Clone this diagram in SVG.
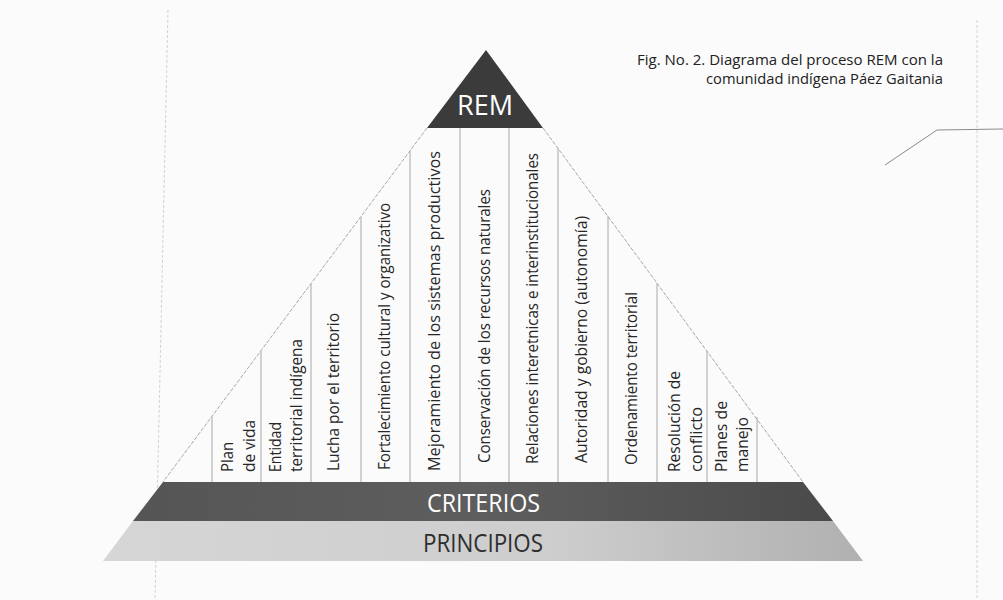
<svg xmlns="http://www.w3.org/2000/svg" width="1003" height="600" viewBox="0 0 1003 600">
  <defs>
    <linearGradient id="gDark" x1="0" y1="0" x2="1" y2="0">
      <stop offset="0" stop-color="#555555"/>
      <stop offset="0.5" stop-color="#5e5e5e"/>
      <stop offset="1" stop-color="#4a4a4a"/>
    </linearGradient>
    <linearGradient id="gLight" x1="0" y1="0" x2="1" y2="0">
      <stop offset="0" stop-color="#d6d6d6"/>
      <stop offset="0.6" stop-color="#cdcdcd"/>
      <stop offset="1" stop-color="#b0b0b0"/>
    </linearGradient>
    <style>
      .lbl { font-family: "Open Sans", "Noto Sans", "Liberation Sans", sans-serif; font-size: 16px; fill: #262626; }
      .title { font-family: "Open Sans", "Noto Sans", "Liberation Sans", sans-serif; font-size: 14.5px; fill: #222222; text-anchor: end; }
      .div { stroke: #a8a8a8; stroke-width: 1; fill: none; }
      .side { stroke: #a8a8a8; stroke-width: 1; fill: none; stroke-dasharray: 4 1.5; }
      .scan { stroke: #d2d2d2; stroke-width: 1; fill: none; stroke-dasharray: 3 2; }
      .band { font-family: "Open Sans", "Noto Sans", "Liberation Sans", sans-serif; text-anchor: middle; }
    </style>
  </defs>

  <rect x="0" y="0" width="1003" height="600" fill="#fbfbfb"/>

  <!-- scan artefact lines -->
  <g id="scan-lines">
    <line class="scan" x1="168" y1="10" x2="155" y2="600"/>
    <line class="scan" x1="977" y1="20" x2="977" y2="600"/>
    <polyline points="885,165 937,130 1003,129" fill="none" stroke="#8a8a8a" stroke-width="1"/>
  </g>

  <g id="title">
    <text class="title" x="943" y="65" textLength="306" lengthAdjust="spacingAndGlyphs">Fig. No. 2. Diagrama del proceso REM con la</text>
    <text class="title" x="943" y="84" textLength="237" lengthAdjust="spacingAndGlyphs">comunidad indígena Páez Gaitania</text>
  </g>

  <!-- connectors: pyramid sides and column dividers -->
  <g id="connectors">
    <line class="side" x1="427" y1="128" x2="163" y2="482"/>
    <line class="side" x1="543" y1="128" x2="803" y2="482"/>
    <line class="div" x1="212" y1="417" x2="212" y2="482"/>
    <line class="div" x1="261" y1="351" x2="261" y2="482"/>
    <line class="div" x1="311" y1="284" x2="311" y2="482"/>
    <line class="div" x1="361" y1="217" x2="361" y2="482"/>
    <line class="div" x1="410" y1="151" x2="410" y2="482"/>
    <line class="div" x1="460" y1="128" x2="460" y2="482"/>
    <line class="div" x1="509" y1="128" x2="509" y2="482"/>
    <line class="div" x1="558" y1="148" x2="558" y2="482"/>
    <line class="div" x1="608" y1="216" x2="608" y2="482"/>
    <line class="div" x1="657" y1="283" x2="657" y2="482"/>
    <line class="div" x1="707" y1="351" x2="707" y2="482"/>
    <line class="div" x1="757" y1="417" x2="757" y2="482"/>
  </g>

  <g id="rem">
    <polygon points="486,50 543,128 427,128" fill="#3b3b3b"/>
    <text class="band" x="485" y="115" font-size="28" fill="#ffffff" textLength="56" lengthAdjust="spacingAndGlyphs">REM</text>
  </g>

  <g id="criterios">
    <polygon points="163,482 803,482 833,521 133,521" fill="url(#gDark)"/>
    <text class="band" x="483.5" y="512" font-size="25" fill="#ffffff" textLength="113" lengthAdjust="spacingAndGlyphs">CRITERIOS</text>
  </g>

  <g id="principios">
    <polygon points="133,521 833,521 863,561 103,561" fill="url(#gLight)"/>
    <text class="band" x="483" y="552" font-size="26" fill="#2e2e2e" textLength="120" lengthAdjust="spacingAndGlyphs">PRINCIPIOS</text>
  </g>

  <g id="col-plan-vida" transform="translate(233,472) rotate(-90)">
    <text class="lbl" x="0" y="0" textLength="30" lengthAdjust="spacingAndGlyphs">Plan</text>
    <text class="lbl" x="0" y="22" textLength="52" lengthAdjust="spacingAndGlyphs">de vida</text>
  </g>
  <g id="col-entidad" transform="translate(281,472) rotate(-90)">
    <text class="lbl" x="0" y="0" textLength="50" lengthAdjust="spacingAndGlyphs">Entidad</text>
    <text class="lbl" x="0" y="21" textLength="133" lengthAdjust="spacingAndGlyphs">territorial indígena</text>
  </g>
  <g id="col-lucha" transform="translate(339,471) rotate(-90)">
    <text class="lbl" x="0" y="0" textLength="158" lengthAdjust="spacingAndGlyphs">Lucha por el territorio</text>
  </g>
  <g id="col-fortalecimiento" transform="translate(390,470) rotate(-90)">
    <text class="lbl" x="0" y="0" textLength="267" lengthAdjust="spacingAndGlyphs">Fortalecimiento cultural y organizativo</text>
  </g>
  <g id="col-mejoramiento" transform="translate(440,471) rotate(-90)">
    <text class="lbl" x="0" y="0" textLength="320" lengthAdjust="spacingAndGlyphs">Mejoramiento de los sistemas productivos</text>
  </g>
  <g id="col-conservacion" transform="translate(490,463) rotate(-90)">
    <text class="lbl" x="0" y="0" textLength="274" lengthAdjust="spacingAndGlyphs">Conservación de los recursos naturales</text>
  </g>
  <g id="col-relaciones" transform="translate(538,464) rotate(-90)">
    <text class="lbl" x="0" y="0" textLength="311" lengthAdjust="spacingAndGlyphs">Relaciones interetnicas e interinstitucionales</text>
  </g>
  <g id="col-autoridad" transform="translate(587,463) rotate(-90)">
    <text class="lbl" x="0" y="0" textLength="247" lengthAdjust="spacingAndGlyphs">Autoridad y gobierno (autonomía)</text>
  </g>
  <g id="col-ordenamiento" transform="translate(637,465) rotate(-90)">
    <text class="lbl" x="0" y="0" textLength="173" lengthAdjust="spacingAndGlyphs">Ordenamiento territorial</text>
  </g>
  <g id="col-resolucion" transform="translate(680,472) rotate(-90)">
    <text class="lbl" x="0" y="0" textLength="101" lengthAdjust="spacingAndGlyphs">Resolución de</text>
    <text class="lbl" x="0" y="22" textLength="65" lengthAdjust="spacingAndGlyphs">conflicto</text>
  </g>
  <g id="col-planes" transform="translate(727,472) rotate(-90)">
    <text class="lbl" x="0" y="0" textLength="71" lengthAdjust="spacingAndGlyphs">Planes de</text>
    <text class="lbl" x="0" y="21" textLength="55" lengthAdjust="spacingAndGlyphs">manejo</text>
  </g>
</svg>
